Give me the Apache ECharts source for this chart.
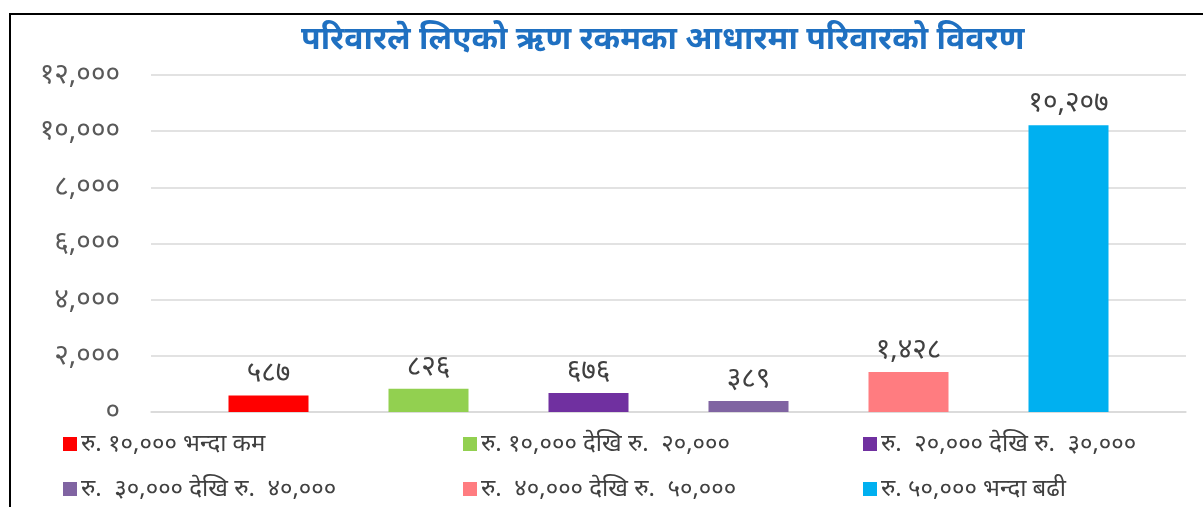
<!DOCTYPE html>
<html>
<head>
<meta charset="utf-8">
<script src="https://cdn.jsdelivr.net/npm/echarts@6/dist/echarts.min.js"></script>
<style>
  html, body { margin: 0; padding: 0; background: #fff; }
  #frame { position: absolute; left: 9px; top: 13px; right: -4px; bottom: -4px;
           border-left: 2px solid #000; border-top: 2px solid #000; }
  #chart { position: absolute; left: 0; top: 0; width: 1203px; height: 507px; }
</style>
</head>
<body>
<div id="frame"></div>
<div id="chart"></div>
<script>
// Household loan amount groups and number of households in each
const titleText = 'परिवारले लिएको ऋण रकमका आधारमा परिवारको विवरण';
const categories = [
  'रु. १०,००० भन्दा कम',
  'रु. १०,००० देखि रु.  २०,०००',
  'रु.  २०,००० देखि रु.  ३०,०००',
  'रु.  ३०,००० देखि रु.  ४०,०००',
  'रु.  ४०,००० देखि रु.  ५०,०००',
  'रु. ५०,००० भन्दा बढी'
];
const households = [587, 826, 676, 389, 1428, 10207];
const colors = ['#ff0000', '#92d050', '#7030a0', '#8064a2', '#ff7c80', '#00b0f0'];
const yTicks = [0, 2000, 4000, 6000, 8000, 10000, 12000];

const devDigits = '०१२३४५६७८९';
function toDevanagari(n) {
  return n.toLocaleString('en-US').replace(/[0-9]/g, d => devDigits[+d]);
}

const legendPos = [
  { left: 58, top: 427 }, { left: 458, top: 427 }, { left: 858, top: 427 },
  { left: 58, top: 472 }, { left: 458, top: 472 }, { left: 858, top: 472 }
];

const font = "'Noto Sans', 'DejaVu Sans', sans-serif";

const chart = echarts.init(document.getElementById('chart'), null, { renderer: 'canvas' });
chart.setOption({
  animation: false,
  backgroundColor: 'transparent',
  textStyle: { fontFamily: font },
  title: {
    text: titleText,
    left: 296,
    top: 19,
    textStyle: { color: '#1f70c1', fontSize: 32, fontWeight: 'bold', fontFamily: font }
  },
  grid: { left: 151, right: 17, top: 75, bottom: 95, containLabel: false },
  xAxis: {
    type: 'category',
    data: [''],
    axisLine: { show: true, lineStyle: { color: '#d9d9d9', width: 1.5 } },
    axisTick: { show: false },
    axisLabel: { show: false }
  },
  yAxis: {
    type: 'value',
    min: yTicks[0],
    max: yTicks[yTicks.length - 1],
    interval: yTicks[1] - yTicks[0],
    axisLine: { show: false },
    axisTick: { show: false },
    splitLine: { lineStyle: { color: '#d9d9d9', width: 1.5 } },
    axisLabel: {
      color: '#595959',
      fontSize: 28,
      margin: 31,
      formatter: v => toDevanagari(v)
    }
  },
  legend: categories.map((name, i) => ({
    data: [name],
    left: legendPos[i].left,
    top: legendPos[i].top,
    icon: 'rect',
    itemWidth: 14,
    itemHeight: 14,
    itemGap: 5,
    selectedMode: false,
    textStyle: { color: '#404040', fontSize: 24, fontFamily: font, padding: [0, 0, 0, -1] }
  })),
  series: categories.map((name, i) => ({
    type: 'bar',
    name: name,
    data: [households[i]],
    barWidth: 80,
    barGap: '100%',
    itemStyle: { color: colors[i] },
    label: {
      show: true,
      position: 'top',
      distance: 8,
      color: '#404040',
      fontSize: 28,
      formatter: p => toDevanagari(p.value)
    }
  }))
});
</script>
</body>
</html>
